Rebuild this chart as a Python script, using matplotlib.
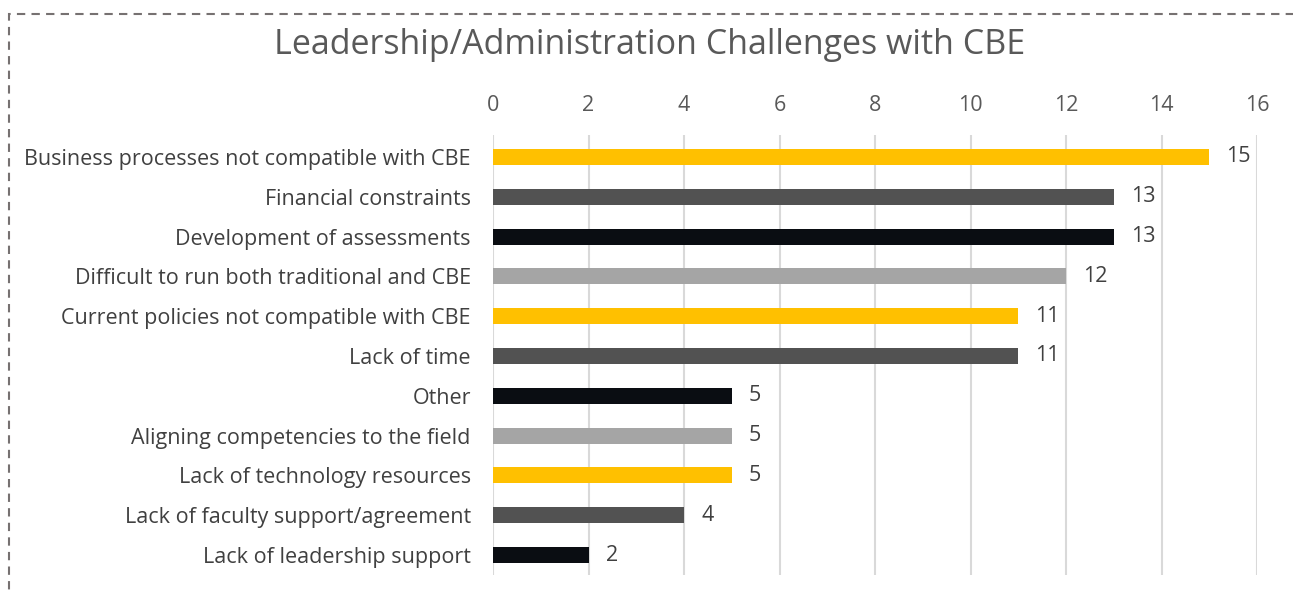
import matplotlib.pyplot as plt
from matplotlib.patches import Rectangle

categories = [
    "Business processes not compatible with CBE",
    "Financial constraints",
    "Development of assessments",
    "Difficult to run both traditional and CBE",
    "Current policies not compatible with CBE",
    "Lack of time",
    "Other",
    "Aligning competencies to the field",
    "Lack of technology resources",
    "Lack of faculty support/agreement",
    "Lack of leadership support",
]
values = [15, 13, 13, 12, 11, 11, 5, 5, 5, 4, 2]
bar_colors = ["#FFC000", "#525252", "#0A0D12", "#A5A5A5",
              "#FFC000", "#525252", "#0A0D12", "#A5A5A5",
              "#FFC000", "#525252", "#0A0D12"]
xticks = [0, 2, 4, 6, 8, 10, 12, 14, 16]
title = "Leadership/Administration Challenges with CBE"

plt.rcParams['font.family'] = ['Open Sans', 'DejaVu Sans']

fig = plt.figure(figsize=(12.93, 5.93), dpi=100)
ax = fig.add_axes([493/1293, 1-575/593, (1257-493)/1293, (575-135)/593])

y = list(range(len(categories)))
ax.barh(y, values, height=0.4, color=bar_colors, zorder=3)
for yi, v in zip(y, values):
    ax.text(v + 0.36, yi, str(v), va='center', ha='left', fontsize=15.5,
            color='#404040')

ax.set_xlim(0, 16)
ax.set_ylim(10.5, -0.55)
ax.set_xticks(xticks)
ax.xaxis.tick_top()
ax.tick_params(axis='x', length=0, labelsize=15.5, labelcolor='#595959', pad=14)
ax.set_yticks(y)
ax.set_yticklabels(categories)
ax.tick_params(axis='y', length=0, labelsize=15.5, labelcolor='#404040', pad=16)
ax.grid(axis='x', color='#D9D9D9', linewidth=1.5, zorder=0)
for s in ax.spines.values():
    s.set_visible(False)

fig.text(650/1293, 1-45/593, title, ha='center', va='center', fontsize=24.5,
         color='#595959')

# dashed border
border = Rectangle((9/1293, -0.1), 1.2, 1-14/593+0.1, transform=fig.transFigure,
                   fill=False, edgecolor='#767171', linestyle=(0, (4, 3)),
                   linewidth=1.5)
fig.patches.append(border)

fig.savefig('out.png', dpi=100)
